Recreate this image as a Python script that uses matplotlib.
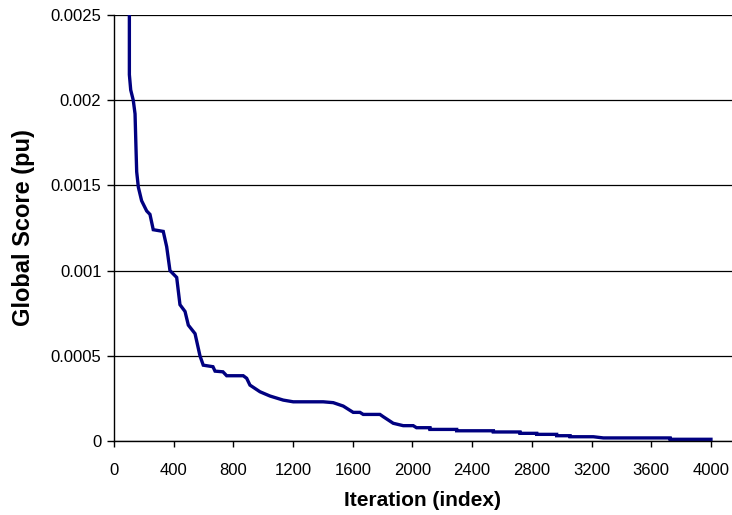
import matplotlib.pyplot as plt

# convergence curve (step-like best score)
iteration = [103, 103, 112, 129, 141, 147, 152, 163, 185, 219, 241, 263, 330, 353,
             375, 420, 442, 476, 498, 543, 576, 598, 663, 677, 730, 755, 866, 889,
             911, 978, 1045, 1134, 1201, 1402, 1469, 1536, 1581, 1603, 1648, 1670,
             1782, 1805, 1871, 1938, 2005, 2027, 2117, 2117, 2296, 2296, 2542, 2542,
             2720, 2720, 2832, 2832, 2966, 2966, 3056, 3056, 3212, 3279, 3726, 3726,
             4000]
score = [0.0030, 0.00215, 0.00206, 0.00200, 0.00192, 0.00173, 0.00158, 0.00149,
         0.00141, 0.00135, 0.00133, 0.00124, 0.00123, 0.00114, 0.00100, 0.00096,
         0.00080, 0.00076, 0.00068, 0.00063, 0.00050, 0.000445, 0.000436, 0.00041,
         0.000406, 0.000383, 0.000383, 0.000368, 0.000328, 0.000289, 0.000264,
         0.00024, 0.00023, 0.00023, 0.000225, 0.000205, 0.00018, 0.000168, 0.000168,
         0.000156, 0.000156, 0.000142, 0.000104, 0.00009, 0.00009, 0.000078,
         0.000078, 0.000068, 0.000068, 0.00006, 0.00006, 0.000053, 0.000053,
         0.000045, 0.000045, 0.000039, 0.000039, 0.000031, 0.000031, 0.000025,
         0.000025, 0.000018, 0.000018, 0.00001, 0.00001]

xticks = list(range(0, 4001, 400))
yticks = [0, 0.0005, 0.001, 0.0015, 0.002, 0.0025]
ytick_labels = ['0', '0.0005', '0.001', '0.0015', '0.002', '0.0025']

plt.rcParams['font.family'] = ['Liberation Sans', 'DejaVu Sans']

fig = plt.figure(figsize=(7.32, 5.15), dpi=100)
ax = fig.add_axes([114 / 732, 1 - 441 / 515, 618 / 732, 426 / 515])

ax.plot(iteration, score, color='#000080', linewidth=2.4, solid_joinstyle='miter')

ax.set_xlim(0, 4141)
ax.set_ylim(0, 0.0025)
ax.set_xticks(xticks)
ax.set_yticks(yticks)
ax.set_yticklabels(ytick_labels)
ax.yaxis.grid(True, color='black', linewidth=0.9)
ax.set_axisbelow(True)

for s in ['top', 'right']:
    ax.spines[s].set_visible(False)
ax.spines['left'].set_linewidth(1)
ax.spines['bottom'].set_linewidth(1)
ax.tick_params(axis='y', direction='out', length=5, width=1, pad=4, labelsize=12)
ax.tick_params(axis='x', direction='out', length=4, width=1, pad=12, labelsize=12)

ax.set_xlabel('Iteration (index)', fontsize=15, fontweight='bold', labelpad=9)
ax.set_ylabel('Global Score (pu)', fontsize=17, fontweight='bold', labelpad=11)

fig.savefig('out.png', dpi=100)
